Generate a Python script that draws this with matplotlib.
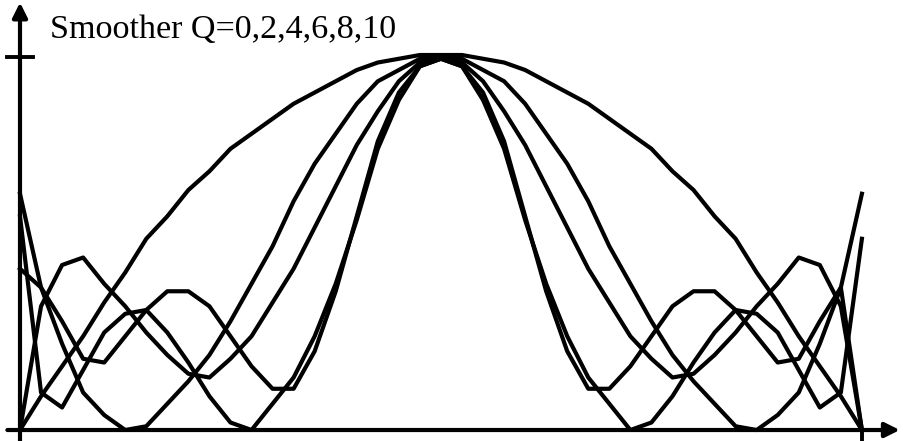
import matplotlib.pyplot as plt
import numpy as np

# sample index 0..40 along the horizontal axis
n_points = 41
q_labels = ["Q=0", "Q=2", "Q=4", "Q=6", "Q=8"]

q0 = [0.00, 0.09, 0.17, 0.25, 0.34, 0.42, 0.51, 0.57, 0.64, 0.69, 0.75, 0.79, 0.83, 0.87,
      0.90, 0.93, 0.96, 0.98, 0.99, 1.00, 1.00,
      1.00, 0.99, 0.98, 0.96, 0.93, 0.90, 0.87, 0.83, 0.79, 0.75, 0.69, 0.64, 0.57, 0.51,
      0.42, 0.34, 0.25, 0.17, 0.09, 0.00]
q2 = [0.63, 0.38, 0.23, 0.10, 0.04, 0.00, 0.01, 0.07, 0.13, 0.20, 0.29, 0.39, 0.49, 0.61,
      0.71, 0.79, 0.87, 0.93, 0.96, 0.99, 0.99,
      0.99, 0.96, 0.93, 0.87, 0.79, 0.71, 0.61, 0.49, 0.39, 0.29, 0.20, 0.13, 0.07, 0.01,
      0.00, 0.04, 0.10, 0.23, 0.38, 0.63]
q4 = [0.00, 0.33, 0.44, 0.46, 0.39, 0.33, 0.26, 0.20, 0.15, 0.14, 0.19, 0.25, 0.34, 0.43,
      0.54, 0.65, 0.76, 0.85, 0.93, 0.98, 0.99,
      0.98, 0.93, 0.85, 0.76, 0.65, 0.54, 0.43, 0.34, 0.25, 0.19, 0.14, 0.15, 0.20, 0.26,
      0.33, 0.39, 0.46, 0.44, 0.33, 0.00]
q6 = [0.57, 0.10, 0.06, 0.16, 0.26, 0.31, 0.32, 0.26, 0.18, 0.09, 0.02, 0.00, 0.07, 0.14,
      0.25, 0.39, 0.56, 0.75, 0.88, 0.97, 0.99,
      0.97, 0.88, 0.75, 0.56, 0.39, 0.25, 0.14, 0.07, 0.00, 0.02, 0.09, 0.18, 0.26, 0.32,
      0.31, 0.26, 0.16, 0.06, 0.10, 0.51]
q8 = [0.43, 0.38, 0.29, 0.19, 0.18, 0.25, 0.32, 0.37, 0.37, 0.33, 0.25, 0.17, 0.11, 0.11,
      0.21, 0.37, 0.57, 0.77, 0.90, 0.97, 0.99,
      0.97, 0.90, 0.77, 0.57, 0.37, 0.21, 0.11, 0.11, 0.17, 0.25, 0.33, 0.37, 0.37, 0.32,
      0.25, 0.18, 0.19, 0.29, 0.38, 0.00]

title = "Smoother Q=0,2,4,6,8,10"

fig = plt.figure(figsize=(9.04, 4.41), dpi=100)
ax = fig.add_axes([0, 0, 1, 1])
ax.set_xlim(-0.95, 42.0)
ax.set_ylim(-0.0293, 1.1467)
ax.axis("off")

x = np.arange(n_points)
for series, label in zip([q0, q2, q4, q6, q8], q_labels):
    ax.plot(x, series, color="black", lw=3.0, solid_joinstyle="round", label=label)

# hand-drawn style axes with arrow heads
arrow = dict(arrowstyle="-|>", lw=3.0, color="black", mutation_scale=22, shrinkA=0, shrinkB=0)
ax.annotate("", xy=(0, 1.14), xytext=(0, -0.03), arrowprops=arrow)
ax.annotate("", xy=(41.8, 0), xytext=(-0.6, 0), arrowprops=arrow)
ax.plot([-0.62, 0.62], [0.995, 0.995], color="black", lw=2.8)
ax.plot([40, 40], [0, -0.03], color="black", lw=2.8)

ax.text(1.43, 1.045, title, fontsize=24.6, family=["Liberation Serif", "DejaVu Serif"],
        ha="left", va="baseline")

fig.savefig("out.png", dpi=100)
